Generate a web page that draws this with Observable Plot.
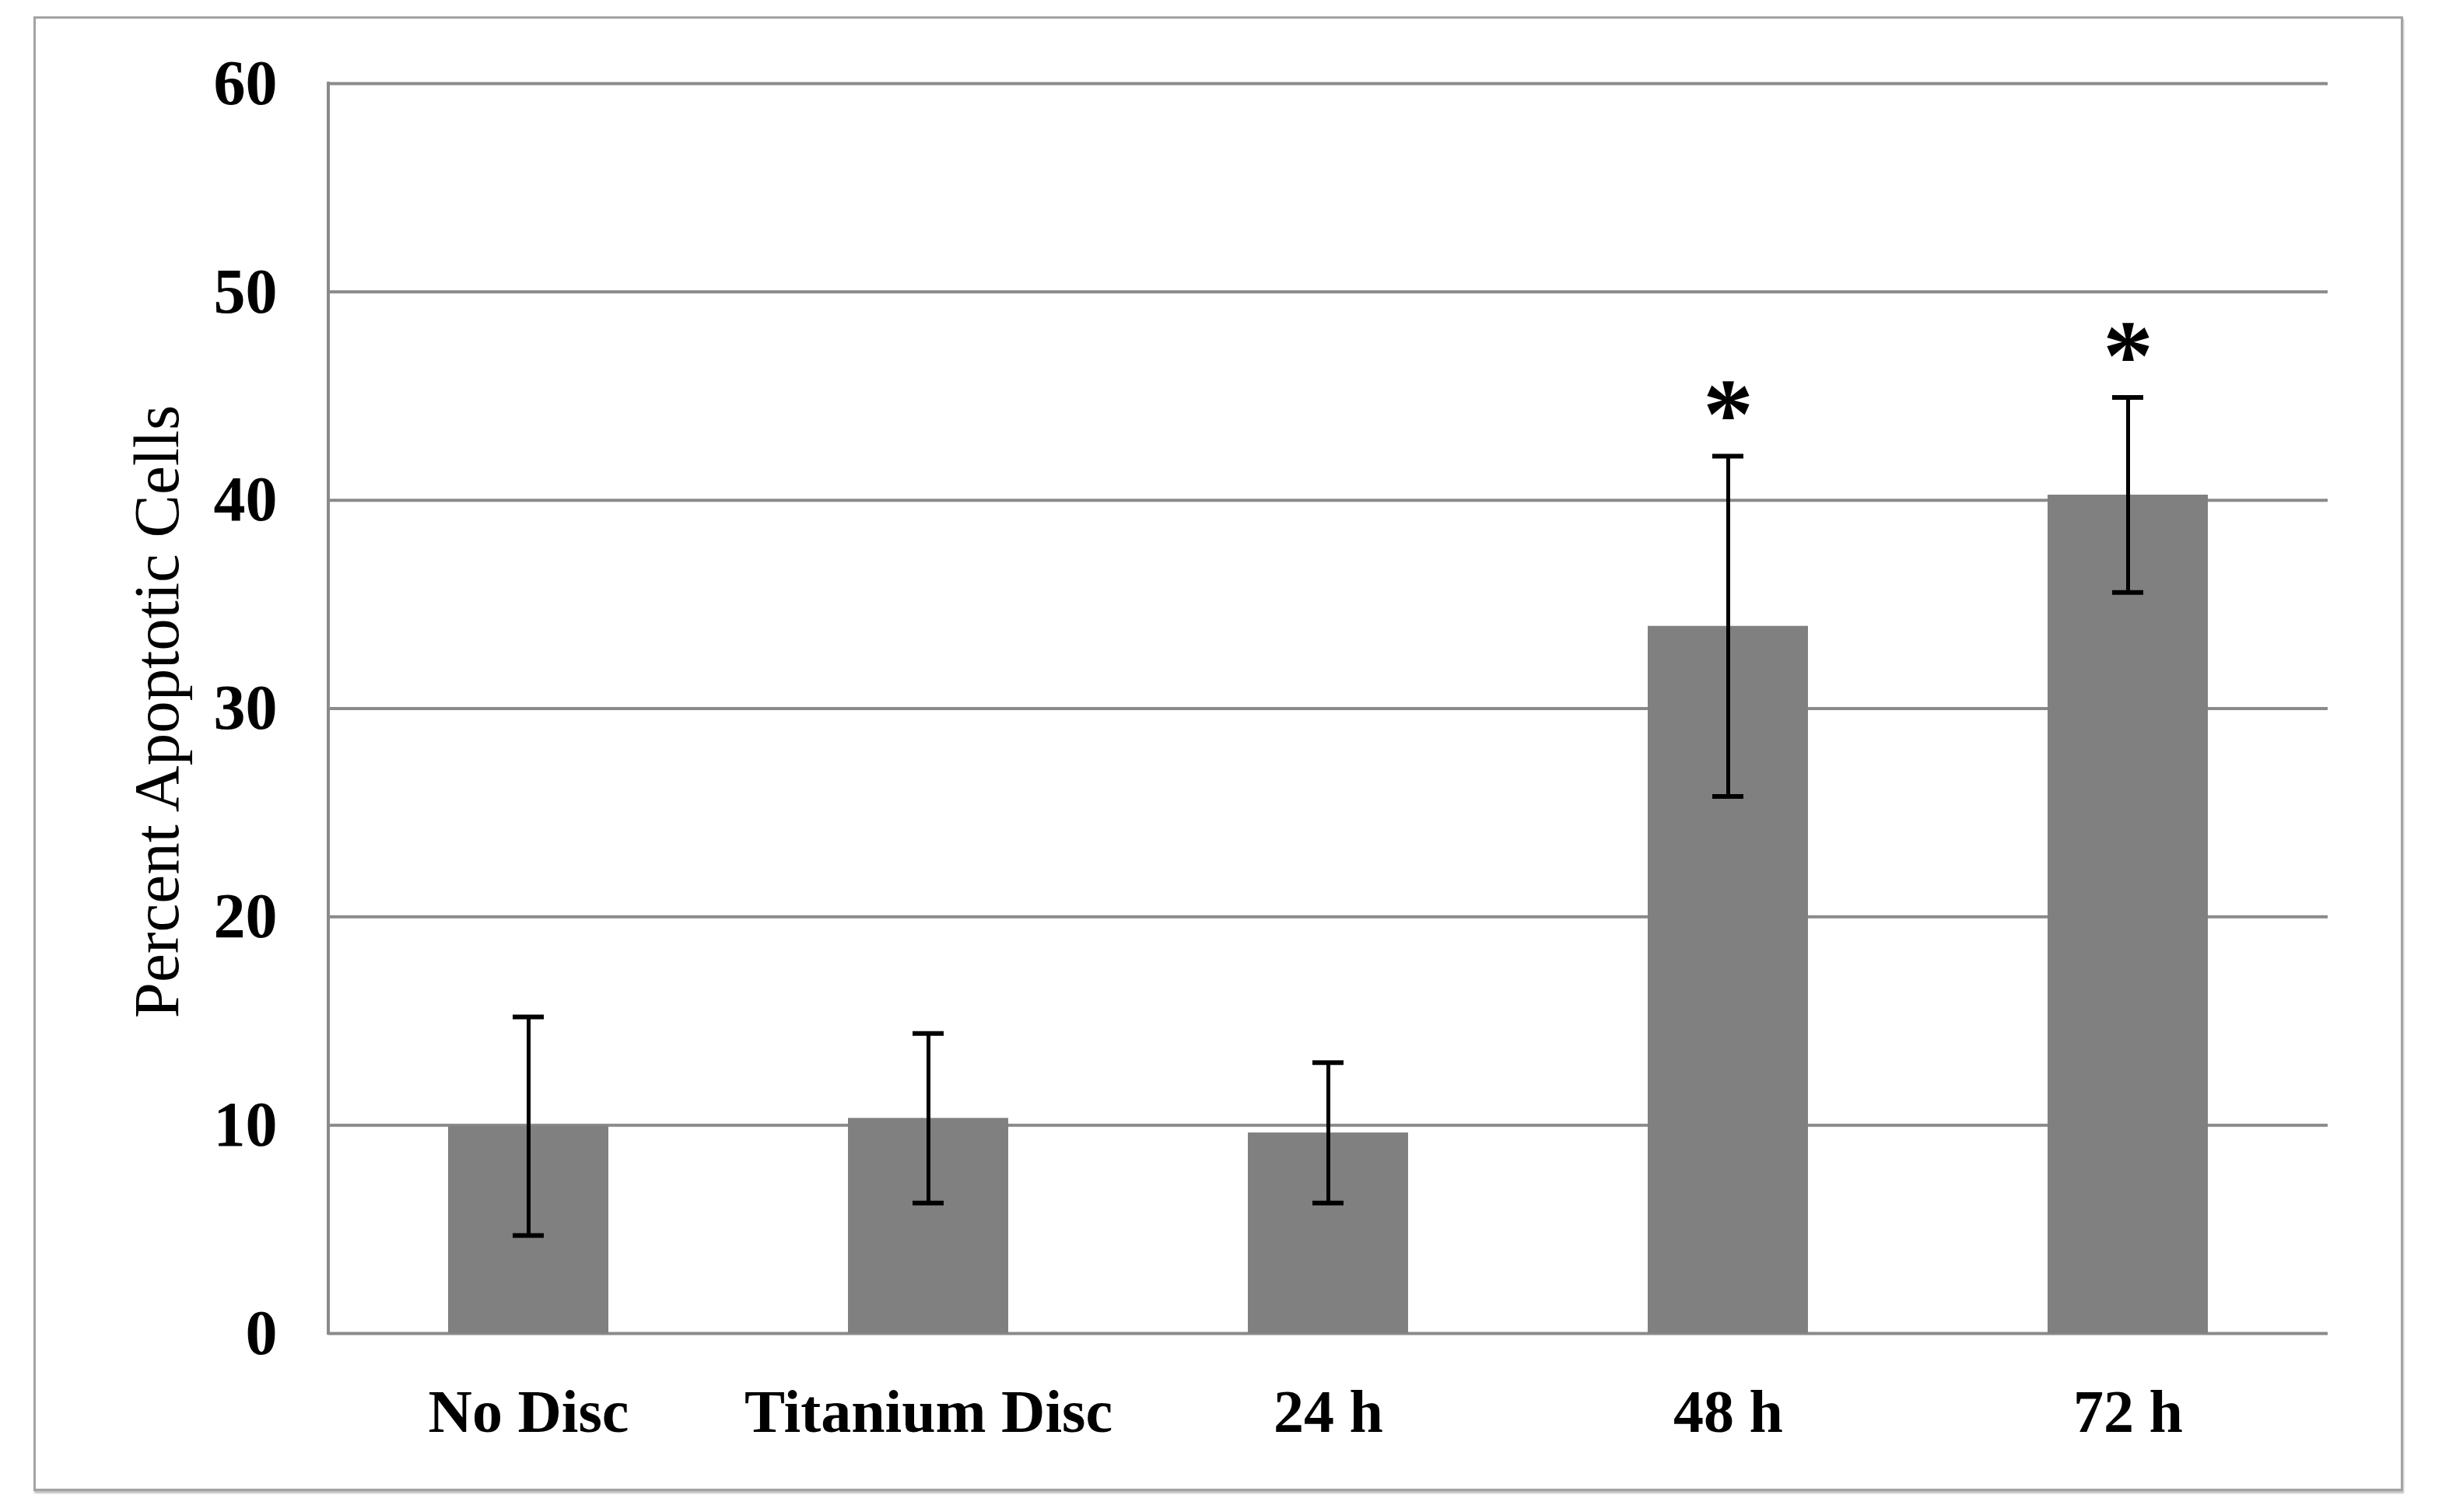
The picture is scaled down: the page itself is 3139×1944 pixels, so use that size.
<!DOCTYPE html>
<html>
<head>
<meta charset="utf-8">
<script src="https://cdn.jsdelivr.net/npm/d3@7"></script>
<script src="https://cdn.jsdelivr.net/npm/@observablehq/plot@0.6"></script>
<style>
  html, body { margin: 0; padding: 0; background: #fff; overflow: hidden; }
  #wrap { position: relative; width: 3139px; height: 1944px; }
  #border { position: absolute; left: 43px; top: 21px; width: 3040px; height: 1890px;
            border: 3px solid #a3a3a3; box-shadow: 1px 3px 2px rgba(0,0,0,0.25); pointer-events: none; }
  svg { position: absolute; left: 0; top: 0; }
</style>
</head>
<body>
<div id="wrap"><div id="border"></div></div>
<script>
const categories = ["No Disc", "Titanium Disc", "24 h", "48 h", "72 h"];
const means = [9.95, 10.33, 9.63, 33.95, 40.25];
const errors = [5.25, 4.07, 3.37, 8.17, 4.68];
const significance = ["", "", "", "*", "*"];
const yTicks = [0, 10, 20, 30, 40, 50, 60];
const yLabel = "Percent Apoptotic Cells";

const data = categories.map((c, i) => ({
  cat: c, mean: means[i], lo: means[i] - errors[i], hi: means[i] + errors[i], sig: significance[i]
}));

const font = "'Liberation Serif', 'Times New Roman', serif";
const gridColor = "#8a8a8a";

const leftAxisLine = (index, scales, values, dimensions) => {
  const g = d3.create("svg:g");
  const x = dimensions.marginLeft;
  g.append("line")
    .attr("x1", x).attr("x2", x)
    .attr("y1", scales.y(d3.max(yTicks)) - 2).attr("y2", scales.y(0) + 2)
    .attr("stroke", gridColor).attr("stroke-width", 4);
  return g.node();
};

const chart = Plot.plot({
  width: 3139,
  height: 1944,
  marginLeft: 422,
  marginRight: 147,
  marginTop: 107,
  marginBottom: 230,
  style: { fontFamily: font, background: "transparent", overflow: "visible" },
  x: { domain: categories, paddingInner: 0.6, paddingOuter: 0.3, label: null },
  y: { domain: [0, 60], ticks: yTicks, label: null },
  marks: [
    Plot.ruleY(yTicks, { stroke: gridColor, strokeWidth: 4 }),
    leftAxisLine,
    Plot.barY(data, {
      x: "cat", y: "mean", fill: "#808080",
      style: { filter: "drop-shadow(2px 3px 3px rgba(0,0,0,0.25))" }
    }),
    Plot.ruleX(data, { x: "cat", y1: "lo", y2: "hi", stroke: "#000", strokeWidth: 5 }),
    Plot.tickY(data, { x: "cat", y: "lo", stroke: "#000", strokeWidth: 6, inset: 83 }),
    Plot.tickY(data, { x: "cat", y: "hi", stroke: "#000", strokeWidth: 6, inset: 83 }),
    Plot.text(data, {
      x: "cat", y: "hi", text: "sig", fontSize: 130, fontWeight: "bold",
      lineAnchor: "bottom", dy: -10, fill: "#000"
    }),
    Plot.axisY({
      ticks: yTicks, tickSize: 0, tickPadding: 66, fontSize: 82, fontWeight: "bold",
      tickFormat: d => String(d), label: null, fill: "#000"
    }),
    Plot.axisX({
      tickSize: 0, tickPadding: 71, fontSize: 78, fontWeight: "bold", label: null, fill: "#000"
    }),
    Plot.text([yLabel], {
      frameAnchor: "left", rotate: -90, textAnchor: "middle", lineAnchor: "bottom", dx: -194, dy: 4,
      fontSize: 83, fill: "#000"
    })
  ]
});
document.getElementById("wrap").prepend(chart);
</script>
</body>
</html>
